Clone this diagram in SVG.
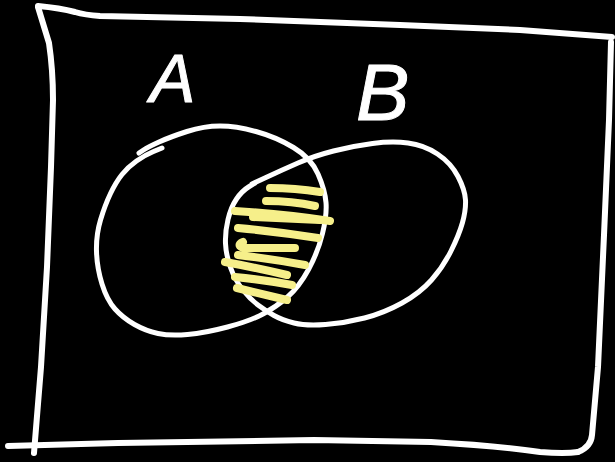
<svg xmlns="http://www.w3.org/2000/svg" width="615" height="462" viewBox="0 0 615 462">
<style>
.chalk{fill:none;stroke:#ffffff;stroke-linecap:round;stroke-linejoin:round}
.frame{stroke-width:6}
.ring{stroke-width:5}
.hatch{fill:none;stroke:#f6ef8a;stroke-width:8;stroke-linecap:round;stroke-linejoin:round}
.lbl{font-family:"Liberation Sans",Arial,sans-serif;font-style:italic;fill:#ffffff;stroke:#ffffff;stroke-width:1;stroke-linejoin:round}
</style>
<rect x="0" y="0" width="615" height="462" fill="#000000"/>
<g id="universe-frame" class="chalk frame">
<path d="M38,6 Q60,8 75,12 Q85,15 100,16 L240,19 L400,25 L520,30 L612,37"/>
<path d="M611,42 Q610,80 609,120 L604,235 L598,367 Q593,425 592,435 Q591,447 578,452"/>
<path d="M8,446 L118,443 L314,440 L431,442 Q500,446 540,452 Q565,454 578,452"/>
<path d="M38,7 Q45,30 49,43 Q53,70 53,100 L51,167 L47,267 L41,367 L34,453"/>
</g>
<g id="set-a" class="chalk ring">
<path d="M162,148 L153.5,151.5 Q145,155 136.5,161 Q128,167 122,174.5 Q116,182 110.5,193.5 Q105,205 100.5,220 Q96,235 96.5,251.5 Q97,268 102,284 Q107,300 115,309 Q123,318 134.5,324.5 Q146,331 158,333.5 Q170,336 187.5,334.5 Q205,333 227.5,327 Q250,321 263,314 Q276,307 287.5,297 Q299,287 308.5,269.5 Q318,252 322.5,233.5 Q327,215 326,202.5 Q325,190 318,174 Q311,158 293.5,147.5 Q276,137 256,131.5 Q236,126 220,126 Q204,126 187,131.5 Q170,137 159,142 Q148,147 143.5,150 L139,153"/>
</g>
<g id="set-b" class="chalk ring">
<path d="M252,184 L267,177 Q282,170 298,163 Q314,156 333.5,151 Q353,146 372.5,143.5 Q392,141 408,143 Q424,145 437.5,154 Q451,163 458,176.5 Q465,190 465.5,200 Q466,210 462.5,222.5 Q459,235 451,251 Q443,267 431.5,280 Q420,293 402,303 Q384,313 364.5,318 Q345,323 325.5,324.5 Q306,326 294,323 Q282,320 274,315.5 Q266,311 258,305 Q250,299 242.5,289.5 Q235,280 230.5,267.5 Q226,255 225.5,243.5 Q225,232 228,219.5 Q231,207 236.5,199 Q242,191 248.5,187 L255,183"/>
</g>
<g id="intersection-shading" class="hatch">
<path d="M270,188 Q295,188 320,192"/>
<path d="M266,201 Q292,201 315,206"/>
<path d="M235,211 Q285,214 330,221"/>
<path d="M253,217 L320,220"/>
<path d="M238,228 Q280,232 318,238"/>
<path d="M243,242 Q236,245 243,248 L295,248"/>
<path d="M238,255 Q272,259 305,265"/>
<path d="M225,262 Q258,268 287,275"/>
<path d="M235,277 Q265,280 292,285"/>
<path d="M237,288 Q262,294 287,300"/>
</g>
<g id="label-a"><text class="lbl" x="150" y="102" font-size="68">A</text></g>
<g id="label-b"><text class="lbl" x="356" y="120" font-size="80">B</text></g>
</svg>
